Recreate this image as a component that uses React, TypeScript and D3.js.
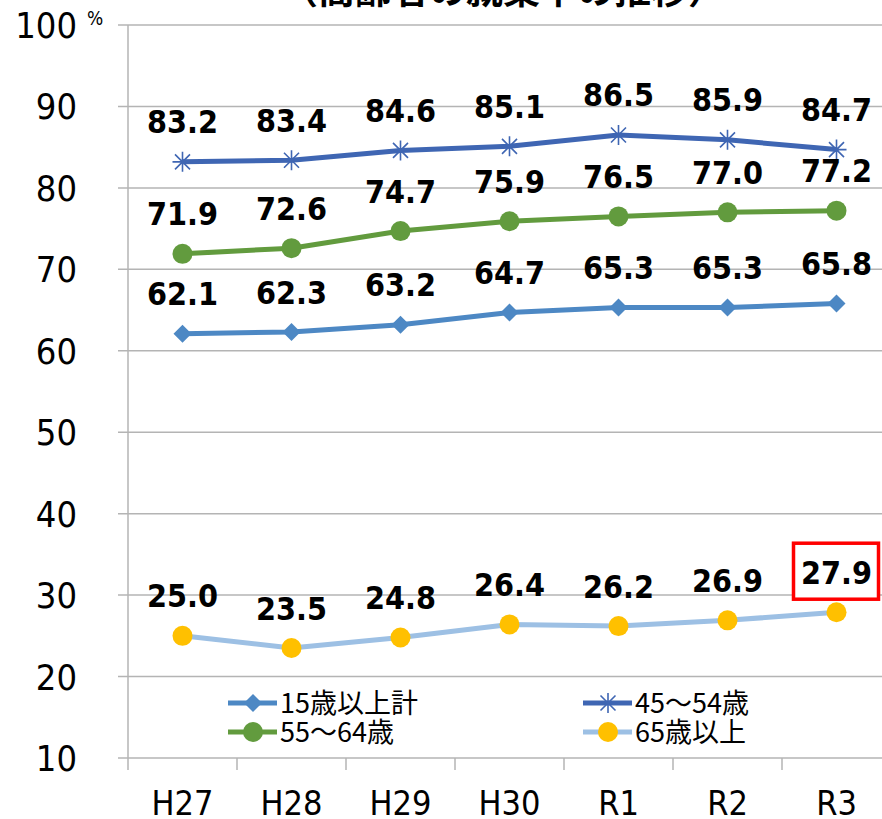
import React, { useEffect, useRef } from 'react';
import * as d3 from 'd3';

const categories = ['H27', 'H28', 'H29', 'H30', 'R1', 'R2', 'R3'];
const yTicks = [10, 20, 30, 40, 50, 60, 70, 80, 90, 100];

const total15 = [62.1, 62.3, 63.2, 64.7, 65.3, 65.3, 65.8];
const age45to54 = [83.2, 83.4, 84.6, 85.1, 86.5, 85.9, 84.7];
const age55to64 = [71.9, 72.6, 74.7, 75.9, 76.5, 77.0, 77.2];
const age65plus = [25.0, 23.5, 24.8, 26.4, 26.2, 26.9, 27.9];

const seriesNames = ['15歳以上計', '45～54歳', '55～64歳', '65歳以上'];

const title = '（高齢者の就業率の推移）';

type Marker = 'diamond' | 'star' | 'circle';
interface Series {
    name: string;
    values: number[];
    line: string;
    marker: Marker;
    markerColor: string;
}

const series: Series[] = [
    { name: seriesNames[0], values: total15, line: '#4d88c4', marker: 'diamond', markerColor: '#4d88c4' },
    { name: seriesNames[1], values: age45to54, line: '#3f66b3', marker: 'star', markerColor: '#3f66b3' },
    { name: seriesNames[2], values: age55to64, line: '#629b3e', marker: 'circle', markerColor: '#629b3e' },
    { name: seriesNames[3], values: age65plus, line: '#9dc0e4', marker: 'circle', markerColor: '#ffc000' },
];

const NUM_FONT = '"Liberation Sans Narrow", "DejaVu Sans Condensed", "Roboto Condensed", sans-serif';
const JP_FONT = '"Noto Sans CJK JP", sans-serif';

function drawMarker(g: d3.Selection<SVGGElement, unknown, null, undefined>, type: Marker, x: number, y: number, color: string) {
    if (type === 'diamond') {
        g.append('path')
            .attr('d', `M${x},${y - 9}L${x + 9},${y}L${x},${y + 9}L${x - 9},${y}Z`)
            .attr('fill', color);
    } else if (type === 'circle') {
        g.append('circle').attr('cx', x).attr('cy', y).attr('r', 10).attr('fill', color);
    } else {
        const r = 10;
        const d = r * 0.75;
        g.append('path')
            .attr('d', `M${x},${y - r}L${x},${y + r}M${x - d},${y - d}L${x + d},${y + d}M${x - d},${y + d}L${x + d},${y - d}M${x - r},${y}L${x + r},${y}`)
            .attr('stroke', color)
            .attr('stroke-width', 1.6)
            .attr('fill', 'none');
    }
}

export default function App() {
    const svgRef = useRef<SVGSVGElement>(null);

    useEffect(() => {
        if (!svgRef.current) return;
        const svg = d3.select(svgRef.current);
        svg.selectAll('*').remove();

        const width = 882;
        const height = 819;
        const margin = { left: 128, top: 25, bottom: 758 };

        const x = d3.scaleBand().domain(categories).range([margin.left, 891]).padding(0);
        const y = d3.scaleLinear().domain([10, 100]).range([margin.bottom, margin.top]);
        const cx = (c: string) => x(c)! + x.bandwidth() / 2;

        svg.append('rect').attr('width', width).attr('height', height).attr('fill', '#ffffff');

        // title (cut off at top of the picture)
        svg.append('text')
            .attr('x', 503)
            .attr('y', 4)
            .attr('text-anchor', 'middle')
            .attr('font-family', JP_FONT)
            .attr('font-weight', 'bold')
            .attr('font-size', 37)
            .attr('fill', '#000')
            .text(title);

        // grid
        svg.append('g')
            .selectAll('line')
            .data(yTicks)
            .join('line')
            .attr('x1', margin.left - 10)
            .attr('x2', width)
            .attr('y1', d => y(d))
            .attr('y2', d => y(d))
            .attr('stroke', '#b4b4b4')
            .attr('stroke-width', 1.5);

        // y axis line
        svg.append('line')
            .attr('x1', margin.left).attr('x2', margin.left)
            .attr('y1', y(100)).attr('y2', y(10))
            .attr('stroke', '#b4b4b4').attr('stroke-width', 1.5);

        // x tick marks
        const bounds = categories.map(c => x(c)!).concat([x(categories[categories.length - 1])! + x.bandwidth()]);
        svg.append('g')
            .selectAll('line')
            .data(bounds)
            .join('line')
            .attr('x1', d => d).attr('x2', d => d)
            .attr('y1', y(10)).attr('y2', y(10) + 12)
            .attr('stroke', '#b4b4b4').attr('stroke-width', 1.5);

        // y tick labels
        svg.append('g')
            .selectAll('text')
            .data(yTicks)
            .join('text')
            .attr('x', 77)
            .attr('y', d => y(d))
            .attr('dy', '0.36em')
            .attr('text-anchor', 'end')
            .attr('font-family', NUM_FONT)
            .attr('font-size', 36)
            .attr('fill', '#000')
            .text(d => d);

        svg.append('text')
            .attr('x', 87)
            .attr('y', 25)
            .attr('font-family', NUM_FONT)
            .attr('font-size', 19)
            .attr('fill', '#000')
            .text('%');

        // x labels
        svg.append('g')
            .selectAll('text')
            .data(categories)
            .join('text')
            .attr('x', d => cx(d))
            .attr('y', 803)
            .attr('dy', '0.36em')
            .attr('text-anchor', 'middle')
            .attr('font-family', NUM_FONT)
            .attr('font-size', 34)
            .attr('fill', '#000')
            .text(d => d);

        // lines + markers
        const line = d3.line<number>()
            .x((_, i) => cx(categories[i]))
            .y(d => y(d));

        series.forEach(s => {
            const g = svg.append('g');
            g.append('path')
                .attr('d', line(s.values)!)
                .attr('fill', 'none')
                .attr('stroke', s.line)
                .attr('stroke-width', 5)
                .attr('stroke-linejoin', 'round');
            s.values.forEach((v, i) => drawMarker(g, s.marker, cx(categories[i]), y(v), s.markerColor));
        });

        // highlight box around the last 65+ label
        const last = categories.length - 1;
        svg.append('rect')
            .attr('x', cx(categories[last]) - 43)
            .attr('y', y(age65plus[last]) - 69)
            .attr('width', 85)
            .attr('height', 56)
            .attr('fill', '#ffffff')
            .attr('stroke', '#ff0000')
            .attr('stroke-width', 3.5);

        // data labels
        series.forEach(s => {
            svg.append('g')
                .selectAll('text')
                .data(s.values)
                .join('text')
                .attr('x', (_, i) => cx(categories[i]))
                .attr('y', d => y(d) - 40)
                .attr('dy', '0.36em')
                .attr('text-anchor', 'middle')
                .attr('font-family', NUM_FONT)
                .attr('font-weight', 'bold')
                .attr('font-size', 32)
                .attr('fill', '#000')
                .text(d => d.toFixed(1));
        });

        // legend
        const legendItems = [
            { s: series[0], x: 228, y: 703 },
            { s: series[1], x: 583, y: 703 },
            { s: series[2], x: 228, y: 732 },
            { s: series[3], x: 583, y: 732 },
        ];
        legendItems.forEach(({ s, x: lx, y: ly }) => {
            const g = svg.append('g');
            g.append('line')
                .attr('x1', lx).attr('x2', lx + 49)
                .attr('y1', ly).attr('y2', ly)
                .attr('stroke', s.line).attr('stroke-width', 5);
            drawMarker(g, s.marker, lx + 25, ly, s.markerColor);
            g.append('text')
                .attr('x', lx + 52)
                .attr('y', ly)
                .attr('dy', '0.36em')
                .attr('font-family', JP_FONT)
                .attr('font-size', 27)
                .attr('fill', '#000')
                .text(s.name);
        });
    }, []);

    return <svg ref={svgRef} width={882} height={819} style={{ position: 'absolute', left: 0, top: 0 }} />;
}
